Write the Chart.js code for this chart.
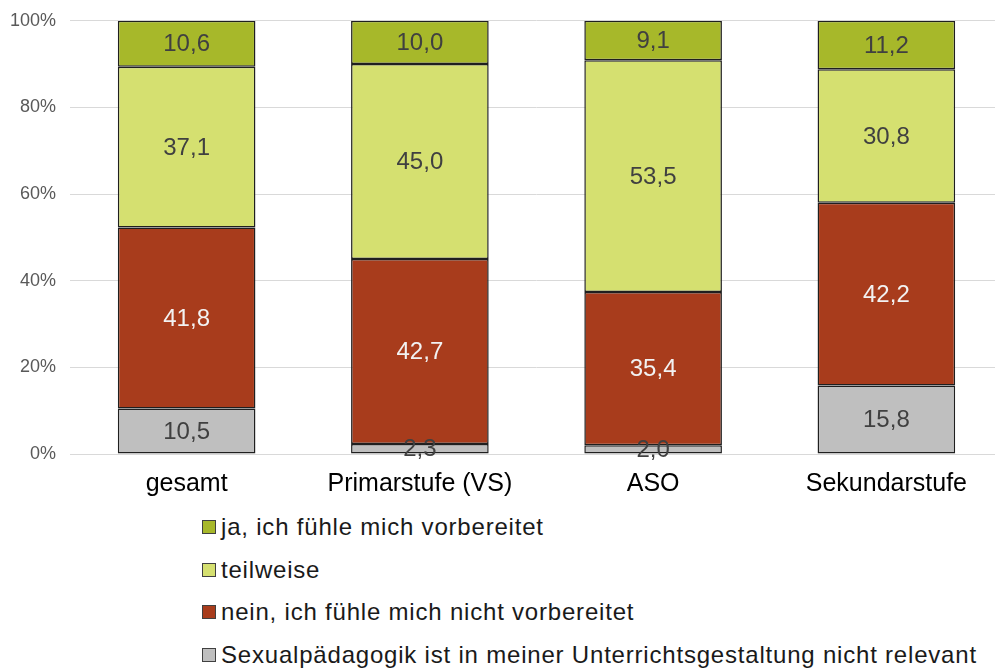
<!DOCTYPE html>
<html>
<head>
<meta charset="utf-8">
<script src="https://cdn.jsdelivr.net/npm/chart.js@4"></script>
<style>
  html, body { margin: 0; padding: 0; background: #fff; overflow: hidden; }
  #wrap { width: 1003px; height: 510px; position: relative; margin-top: -4px; }
  #legend { position: absolute; top: 506px; left: 202px; font-family: "Liberation Sans", Arial, sans-serif; font-size: 24px; letter-spacing: 0.8px; color: #1a1a1a; }
  #legend div { height: 42.5px; display: flex; align-items: center; white-space: nowrap; }
  #legend span.box { display: inline-block; width: 12px; height: 12px; border: 1px solid #404040; margin-right: 5px; }
</style>
</head>
<body>
<div id="wrap"><canvas id="myChart"></canvas></div>
<div id="legend"></div>
<script>
// Kategorien
var categories = ['gesamt', 'Primarstufe (VS)', 'ASO', 'Sekundarstufe'];
// Werte in Prozent (von unten nach oben gestapelt)
var nichtRelevant = [10.5, 2.3, 2.0, 15.8];
var nein = [41.8, 42.7, 35.4, 42.2];
var teilweise = [37.1, 45.0, 53.5, 30.8];
var ja = [10.6, 10.0, 9.1, 11.2];
var yTicks = [0, 20, 40, 60, 80, 100];

var font = "'Liberation Sans', Arial, sans-serif";

// Beschriftung in der Mitte jedes Segments
const labelPlugin = {
    id: 'segmentLabels',
    afterDatasetsDraw(chart) {
        const ctx = chart.ctx;
        ctx.save();
        ctx.font = '24px ' + font;
        ctx.textAlign = 'center';
        ctx.textBaseline = 'middle';
        chart.data.datasets.forEach((ds, i) => {
            ctx.fillStyle = ds.labelColor;
            chart.getDatasetMeta(i).data.forEach((bar, j) => {
                const mid = (bar.y + bar.base) / 2;
                ctx.fillText(ds.data[j].toFixed(1).replace('.', ','), bar.x, mid + 1);
            });
        });
        ctx.restore();
    }
};

function makeSet(label, data, color, labelColor) {
    return {
        label: label,
        data: data,
        backgroundColor: color,
        labelColor: labelColor,
        borderColor: '#1f1f1f',
        borderWidth: 1.5,
        borderSkipped: false,
        barPercentage: 0.59,
        categoryPercentage: 1.0
    };
}

const myChart = new Chart(document.getElementById('myChart'), {
    type: 'bar',
    data: {
        labels: categories,
        datasets: [
            makeSet('Sexualpädagogik ist in meiner Unterrichtsgestaltung nicht relevant', nichtRelevant, '#bfbfbf', '#404040'),
            makeSet('nein, ich fühle mich nicht vorbereitet', nein, '#a83c1c', '#f2f2f2'),
            makeSet('teilweise', teilweise, '#d5e070', '#404040'),
            makeSet('ja, ich fühle mich vorbereitet', ja, '#a7b82a', '#404040')
        ]
    },
    options: {
        responsive: true,
        maintainAspectRatio: false,
        animation: false,
        layout: { padding: { top: 0, left: 0, right: 0, bottom: 0 } },
        plugins: {
            legend: { display: false },
            tooltip: { enabled: false }
        },
        scales: {
            x: {
                stacked: true,
                grid: { display: false },
                border: { color: '#d9d9d9' },
                ticks: { color: '#000', font: { family: font, size: 25 }, padding: 7 }
            },
            y: {
                stacked: true,
                min: 0,
                max: 100,
                afterBuildTicks: function (axis) {
                    axis.ticks = yTicks.map(v => ({ value: v }));
                },
                afterFit: function (axis) { axis.width = 70; },
                grid: { color: '#d9d9d9', drawTicks: false },
                border: { display: false },
                ticks: {
                    color: '#595959',
                    font: { family: font, size: 18 },
                    padding: 14,
                    callback: v => v + '%'
                }
            }
        }
    },
    plugins: [labelPlugin]
});

// Legende untereinander, umgekehrte Reihenfolge
var items = myChart.data.datasets.slice().reverse();
var html = '';
items.forEach(ds => {
    html += '<div><span class="box" style="background:' + ds.backgroundColor + '"></span>' + ds.label + '</div>';
});
document.getElementById('legend').innerHTML = html;
</script>
</body>
</html>
